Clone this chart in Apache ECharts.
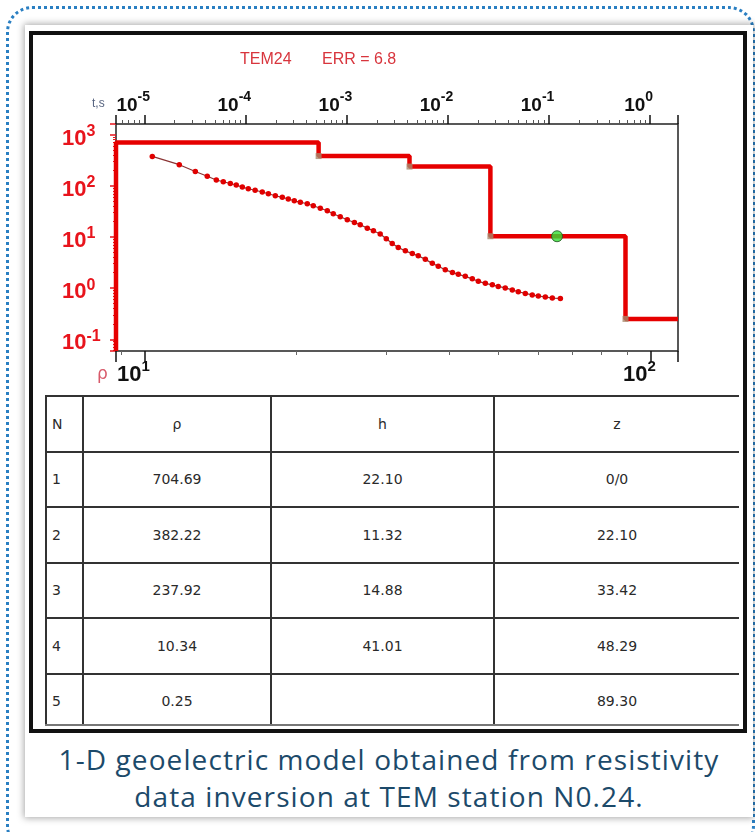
<!DOCTYPE html>
<html>
<head>
<meta charset="utf-8">
<title>TEM24 1-D model</title>
<script src="https://cdn.jsdelivr.net/npm/echarts@6/dist/echarts.min.js"></script>
<style>
  html, body { margin: 0; padding: 0; background: #ffffff; }
  body { width: 755px; height: 832px; position: relative; overflow: hidden; }
  .dots {
    position: absolute; left: 6px; top: 6px; width: 743px; height: 840px;
    border: 3px dotted #2a7fc2; border-radius: 26px;
  }
  .card {
    position: absolute; left: 25px; top: 25px; width: 728px; height: 792px;
    background: #fff; box-shadow: 0 0 7px 1px rgba(0,0,0,0.35);
  }
  .frame {
    position: absolute; left: 29px; top: 31px; width: 718px; height: 702px;
    border: 4px solid #111; box-sizing: border-box; background: #fff;
  }
  #chart { position: absolute; left: 0; top: 0; width: 755px; height: 832px; }
  .tbl-wrap {
    position: absolute; left: 45px; top: 395px; width: 694px; height: 329px;
    overflow: hidden; border-bottom: 2px solid #777;
  }
  table { border-collapse: collapse; width: 694px; table-layout: fixed;
    font-family: "DejaVu Sans", Verdana, sans-serif; font-size: 14px; color: #2a2a2a; }
  td { border: 2px solid #333; height: 53.5px; padding: 0; text-align: center; }
  td.n { text-align: left; padding-left: 5px; }
  .caption {
    position: absolute; left: 25px; top: 741px; width: 728px; text-align: center;
    font-family: "Open Sans", "Noto Sans", sans-serif; font-size: 28px; line-height: 37px;
    color: #1c4a6a; letter-spacing: 1.1px;
  }
</style>
</head>
<body>
<div class="dots"></div>
<div class="card"></div>
<div class="frame"></div>
<div class="tbl-wrap"><table id="tbl"></table></div>
<div class="caption">1-D geoelectric model obtained from resistivity<br>data inversion at TEM station N0.24.</div>
<div id="chart"></div>
<script>
// Layer model from the inversion (rows of the table)
const layerN   = ['1', '2', '3', '4', '5'];
const layerRho = ['704.69', '382.22', '237.92', '10.34', '0.25'];
const layerH   = ['22.10', '11.32', '14.88', '41.01', ''];
const layerZ   = ['0/0', '22.10', '33.42', '48.29', '89.30'];
const headers  = ['N', 'ρ', 'h', 'z'];

// Measured apparent-resistivity transient: time (s) and rho_a (Ohm·m)
const obsTime = [
  1.20e-5, 2.22e-5, 3.20e-5, 4.20e-5, 5.16e-5, 6.05e-5, 7.10e-5, 8.13e-5, 9.33e-5, 1.07e-4,
  1.25e-4, 1.47e-4, 1.69e-4, 1.98e-4, 2.32e-4, 2.66e-4, 3.05e-4, 3.50e-4, 4.10e-4, 4.70e-4,
  5.52e-4, 6.47e-4, 7.41e-4, 8.69e-4, 1.02e-3, 1.20e-3, 1.37e-3, 1.61e-3, 1.85e-3, 2.16e-3,
  2.48e-3, 2.84e-3, 3.26e-3, 3.83e-3, 4.49e-3, 5.14e-3, 6.04e-3, 7.08e-3, 8.11e-3, 9.51e-3,
  1.12e-2, 1.28e-2, 1.50e-2, 1.76e-2, 2.02e-2, 2.37e-2, 2.78e-2, 3.18e-2, 3.73e-2, 4.38e-2,
  5.02e-2, 5.89e-2, 6.90e-2, 7.92e-2, 9.29e-2, 0.109, 0.131
];
const obsRho = [
  376, 259, 191, 154, 130, 120, 111, 104, 94.6, 87.7,
  81.9, 75.9, 70.0, 63.9, 59.7, 55.4, 51.0, 47.7, 44.6, 40.7,
  36.4, 32.5, 28.4, 24.8, 21.7, 19.2, 17.3, 14.9, 13.2, 11.4,
  9.20, 7.45, 6.22, 5.36, 4.74, 4.28, 3.65, 3.05, 2.67, 2.28,
  2.03, 1.86, 1.70, 1.52, 1.36, 1.24, 1.16, 1.08, 1.01, 0.924,
  0.851, 0.789, 0.738, 0.698, 0.674, 0.638, 0.630
];

// Selected (active) point on layer 4
const pickDepth = 65.4;
const pickRho = 10.34;

// Axis ranges
const depthMin = 8.79, depthMax = 113.4;      // bottom axis, m
const timeMin = 5.25e-6, timeMax = 1.91;      // top axis, s
const rhoMin = 0.059, rhoMax = 1618;          // left axis, Ohm·m

// Header texts
const titleStation = 'TEM24';
const titleErr = 'ERR = 6.8';

// ---- table ----
(function buildTable() {
  const t = document.getElementById('tbl');
  const widths = [37, 188, 223, 246];
  let html = '<colgroup>' + widths.map(w => '<col style="width:' + w + 'px">').join('') + '</colgroup>';
  html += '<tr>' + headers.map((h, i) => '<td' + (i === 0 ? ' class="n"' : '') + '>' + h + '</td>').join('') + '</tr>';
  for (let i = 0; i < layerN.length; i++) {
    html += '<tr><td class="n">' + layerN[i] + '</td><td>' + layerRho[i] + '</td><td>' +
      layerH[i] + '</td><td>' + layerZ[i] + '</td></tr>';
  }
  t.innerHTML = html;
})();

// ---- model step curve built from the layer table ----
const rhoVals = layerRho.map(Number);
const zTops = layerZ.map(Number);   // first entry is not numeric (surface)
const modelPts = [[depthMin, rhoMin], [depthMin, rhoVals[0]]];
for (let i = 1; i < rhoVals.length; i++) {
  modelPts.push([zTops[i], rhoVals[i - 1]]);
  modelPts.push([zTops[i], rhoVals[i]]);
}
modelPts.push([depthMax, rhoVals[rhoVals.length - 1]]);
const cornerPts = [];
for (let i = 1; i < rhoVals.length; i++) cornerPts.push([zTops[i], rhoVals[i]]);

const obsPts = obsTime.map((t, i) => [t, obsRho[i]]);

function powLabel(v) {
  const e = Math.log10(v);
  const r = Math.round(e);
  if (Math.abs(e - r) > 1e-6) return '';
  return '{b|10}{s|' + r + '}';
}

const chart = echarts.init(document.getElementById('chart'), null, { renderer: 'canvas' });
chart.setOption({
  animation: false,
  grid: { left: 116, top: 124, width: 562, height: 227, show: true,
          borderColor: '#222', borderWidth: 1.5, backgroundColor: 'transparent' },
  xAxis: [
    {
      type: 'log', position: 'bottom', min: depthMin, max: depthMax,
      axisLine: { show: false }, splitLine: { show: false },
      axisTick: { show: true, length: 11, lineStyle: { color: '#111', width: 1.5 } },
      minorTick: { show: true, splitNumber: 9, length: 4, lineStyle: { color: '#666', width: 1 } },
      axisLabel: {
        formatter: powLabel, margin: 8, padding: [0, 22, 0, 0],
        rich: {
          b: { fontFamily: 'Liberation Sans, Arial', fontWeight: 'bold', fontSize: 22, color: '#111',
               lineHeight: 22, padding: [9, 0, 0, 0] },
          s: { fontFamily: 'Liberation Sans, Arial', fontWeight: 'bold', fontSize: 15, color: '#111',
               lineHeight: 15, verticalAlign: 'top' }
        }
      }
    },
    {
      type: 'log', position: 'top', min: timeMin, max: timeMax,
      axisLine: { show: false }, splitLine: { show: false },
      axisTick: { show: true, length: 9, lineStyle: { color: '#111', width: 1.5 } },
      minorTick: { show: true, splitNumber: 9, length: 4, lineStyle: { color: '#555', width: 1 } },
      axisLabel: {
        formatter: powLabel, margin: 15, padding: [0, 22, 0, 0],
        rich: {
          b: { fontFamily: 'Liberation Sans, Arial', fontWeight: 'bold', fontSize: 19, color: '#111',
               lineHeight: 19, padding: [12, 0, 0, 0] },
          s: { fontFamily: 'Liberation Sans, Arial', fontWeight: 'bold', fontSize: 14, color: '#111',
               lineHeight: 14, verticalAlign: 'top' }
        }
      }
    }
  ],
  yAxis: {
    type: 'log', min: rhoMin, max: rhoMax,
    axisLine: { show: false }, splitLine: { show: false },
    axisTick: { show: true, length: 6, lineStyle: { color: '#e8141c', width: 1.5 } },
    minorTick: { show: true, splitNumber: 9, length: 3, lineStyle: { color: '#e8141c', width: 1 } },
    axisLabel: {
      formatter: powLabel, margin: 54, align: 'left',
      rich: {
        b: { fontFamily: 'Liberation Sans, Arial', fontWeight: 'bold', fontSize: 22, color: '#e8141c',
             lineHeight: 22, padding: [8, 0, 0, 0] },
        s: { fontFamily: 'Liberation Sans, Arial', fontWeight: 'bold', fontSize: 16, color: '#e8141c',
             lineHeight: 16, verticalAlign: 'top' }
      }
    }
  },
  graphic: [
    { type: 'text', left: 240, top: 52, style: { text: titleStation, fill: '#d8353d',
      font: '16px "Liberation Sans", Arial' } },
    { type: 'text', left: 322, top: 52, style: { text: titleErr, fill: '#d8353d',
      font: '16px "Liberation Sans", Arial' } },
    { type: 'text', left: 92, top: 98, style: { text: 't,s', fill: '#56637f',
      font: '12px "Liberation Sans", Arial' } },
    { type: 'text', left: 97, top: 366, style: { text: 'ρ', fill: '#d85a6a',
      font: '17px "DejaVu Sans", sans-serif' } }
  ],
  series: [
    {
      name: 'model', type: 'line', xAxisIndex: 0, yAxisIndex: 0, data: modelPts,
      symbol: 'none', lineStyle: { color: '#e60000', width: 4.5 }, z: 3
    },
    {
      name: 'corners', type: 'scatter', xAxisIndex: 0, data: cornerPts,
      symbol: 'rect', symbolSize: 6, itemStyle: { color: '#a8876a' }, z: 4
    },
    {
      name: 'observed', type: 'line', xAxisIndex: 1, yAxisIndex: 0, data: obsPts,
      symbol: 'circle', symbolSize: 5.5, showAllSymbol: true,
      itemStyle: { color: '#e00000', borderWidth: 0 },
      lineStyle: { color: '#8a3434', width: 1.2 }, z: 5
    },
    {
      name: 'pick', type: 'scatter', xAxisIndex: 0, data: [[pickDepth, pickRho]],
      symbol: 'circle', symbolSize: 11,
      itemStyle: { color: '#33dd33', borderColor: '#1f4f1f', borderWidth: 1 }, z: 6
    }
  ]
});
</script>
</body>
</html>
